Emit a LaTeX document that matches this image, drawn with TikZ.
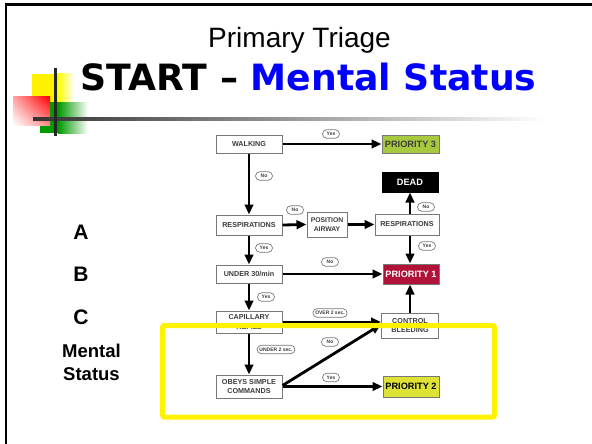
\documentclass[tikz,border=0pt]{standalone}
\usepackage{fontspec}
\setmainfont{Liberation Sans}
\newfontfamily\dejavu{DejaVu Sans}
\usetikzlibrary{arrows.meta,shapes.misc,calc,shadings}
\definecolor{pthree}{RGB}{168,200,64}
\definecolor{pone}{RGB}{176,18,56}
\definecolor{ptwo}{RGB}{222,226,52}
\definecolor{boxline}{RGB}{120,120,120}
\definecolor{boxtext}{RGB}{60,60,60}
\begin{document}
\begin{tikzpicture}[x=1pt,y=-1pt,
  fbox/.style={draw=boxline, line width=1pt, fill=white, font=\fontsize{7.2}{9.5}\selectfont\bfseries,
    text=boxtext, align=center, inner sep=0pt, minimum width=66pt},
  pbox/.style={draw=boxline, line width=1pt, font=\fontsize{9.2}{10}\selectfont\bfseries,
    text=boxtext, align=center, inner sep=0pt, minimum width=56pt},
  lbl/.style={draw=boxline, line width=0.7pt, rounded rectangle, fill=white,
    font=\fontsize{5}{5.5}\selectfont\bfseries, text=boxtext, inner xsep=2pt, inner ysep=0pt,
    minimum height=8.5pt, minimum width=21pt},
  arr/.style={line width=2.8pt, -{Triangle[length=10pt,width=8.5pt]}},
  abc/.style={font=\fontsize{21}{23}\selectfont\bfseries, anchor=base},
  ttl/.style={anchor=base}]
\useasboundingbox (0,0) rectangle (592,444);
% slide frame
\draw[line width=2.5pt] (6,444) -- (6,4.5) -- (592,4.5);
% decoration
\fill[yellow] (32,74) rectangle (58,102);
\shade[left color=yellow, right color=white] (58,74) rectangle (74,102);
\fill[green!60!black] (40,102) rectangle (58,133);
\shade[left color=green!60!black, right color=white] (58,102) rectangle (88,133);
\shade[upper right=red, upper left=red!35, lower right=red!45, lower left=white] (13,97) rectangle (50,125);
\shade[left color=black!80, right color=white] (33,117.8) rectangle (548,120.6);
\draw[line width=3pt, black!85] (55,68) -- (55,136);
% titles
\node[ttl, font=\fontsize{28}{30}\selectfont] (t1) at (299.5,48) {Primary Triage};
\node[ttl, font=\dejavu\bfseries\fontsize{36.2}{40}\selectfont] (t2) at (308.5,91) {START – \textcolor{blue}{Mental Status}};
% left labels
\node[abc] (la) at (81,239) {A};
\node[abc] (lb) at (81,281.5) {B};
\node[abc] (lc) at (81,324) {C};
\node[font=\fontsize{18.5}{23}\selectfont\bfseries, align=center, anchor=base] (lm) at (91.5,380) {Mental\\Status};
% flowchart boxes
\node[fbox, minimum height=18pt] (walk) at (249,144) {WALKING};
\node[pbox, fill=pthree, minimum width=57pt, minimum height=18pt] (p3) at (410.5,144) {PRIORITY 3};
\node[pbox, fill=black, text=white, draw=black, minimum height=20pt] (dead) at (410,182) {DEAD};
\node[fbox, minimum height=20pt] (resp) at (249,225) {RESPIRATIONS};
\node[fbox, minimum width=40pt, minimum height=25pt, font=\fontsize{6.8}{9}\selectfont\bfseries] (pos) at (327,224.5) {POSITION\\AIRWAY};
\node[fbox, minimum width=64pt, minimum height=21pt] (resp2) at (407,224.5) {RESPIRATIONS};
\node[fbox, minimum height=18pt] (u30) at (249,274) {UNDER 30/min};
\node[pbox, fill=pone, text=white, minimum height=20pt] (p1) at (411,274) {PRIORITY 1};
\node[fbox, minimum height=22pt] (cap) at (249,322) {CAPILLARY\\REFILL};
\node[fbox, minimum width=57pt, minimum height=25pt] (ctrl) at (410,325.5) {CONTROL\\BLEEDING};
\node[fbox, minimum height=23pt] (obey) at (249,386.5) {OBEYS SIMPLE\\COMMANDS};
\node[pbox, fill=ptwo, text=black, minimum height=21pt] (p2) at (411,386.5) {PRIORITY 2};
% connectors
\draw[arr] (walk.east) -- (p3.west);
\draw[arr] (walk.south) -- (resp.north);
\draw[arr] (resp.east) -- (pos.west);
\draw[arr] (pos.east) -- (resp2.west);
\draw[arr] (resp2.north -| dead.south) -- (dead.south);
\draw[arr] (resp2.south -| dead.south) -- (p1.north -| dead.south);
\draw[arr] (resp.south) -- (u30.north);
\draw[arr] (u30.east) -- (p1.west);
\draw[arr] (u30.south) -- (cap.north);
\draw[arr] (cap.east) -- (cap.east -| ctrl.west);
\draw[arr] (ctrl.north -| dead.south) -- (p1.south -| dead.south);
\draw[arr] (cap.south) -- (obey.north);
\draw[arr] (obey.east) -- (p2.west);
\draw[arr] ($(obey.east)+(0,-1)$) -- ($(ctrl.west)+(0,-1)$);
% labels
\node[lbl] (l1) at (331,134) {Yes};
\node[lbl] (l2) at (264,176) {No};
\node[lbl] (l3) at (295,210) {No};
\node[lbl] (l4) at (426,207) {No};
\node[lbl] (l5) at (264,248) {Yes};
\node[lbl] (l6) at (427,246) {Yes};
\node[lbl] (l7) at (330,262) {No};
\node[lbl] (l8) at (266,297) {Yes};
\node[lbl] (l9) at (330,313) {OVER 2 sec.};
\node[lbl] (l10) at (276,349.5) {UNDER 2 sec.};
\node[lbl] (l11) at (330,342) {No};
\node[lbl] (l12) at (331,377.5) {Yes};
% highlight frame
\draw[yellow, line width=5pt, rounded corners=2pt] (162.5,325.5) rectangle (494.5,417);
\end{tikzpicture}
\end{document}
